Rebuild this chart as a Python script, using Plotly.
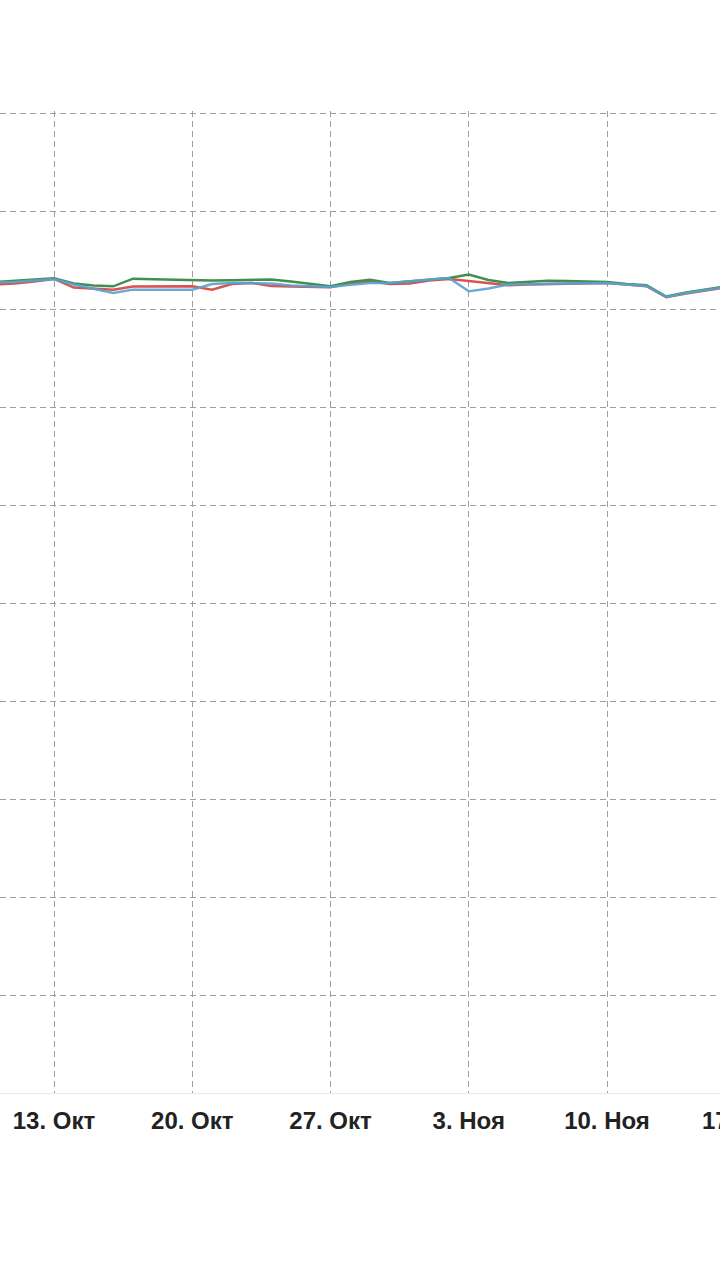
import pandas as pd
import plotly.graph_objects as go

dates = pd.date_range("2025-10-10", "2025-11-16", freq="D")

green_vals = [8.276, 8.286, 8.296, 8.313, 8.260, 8.240, 8.232, 8.309, 8.303, 8.298,
              8.294, 8.291, 8.294, 8.296, 8.301, 8.281, 8.255, 8.232, 8.276, 8.299,
              8.265, 8.283, 8.301, 8.316, 8.352, 8.296, 8.265, 8.276, 8.289, 8.286,
              8.281, 8.276, 8.255, 8.242, 8.128, 8.168, 8.199, 8.230]
red_vals = [8.250, 8.260, 8.281, 8.306, 8.219, 8.209, 8.197, 8.230, 8.232, 8.232,
            8.232, 8.197, 8.255, 8.265, 8.235, 8.230, 8.227, 8.221, 8.265, 8.283,
            8.255, 8.260, 8.291, 8.306, 8.286, 8.265, 8.242, 8.250, 8.255, 8.258,
            8.262, 8.265, 8.250, 8.232, 8.119, 8.158, 8.189, 8.219]
blue_vals = [8.270, 8.276, 8.291, 8.306, 8.250, 8.209, 8.163, 8.197, 8.197, 8.197,
             8.197, 8.255, 8.265, 8.265, 8.260, 8.240, 8.230, 8.224, 8.248, 8.265,
             8.265, 8.283, 8.296, 8.316, 8.180, 8.209, 8.250, 8.255, 8.255, 8.260,
             8.263, 8.265, 8.250, 8.235, 8.122, 8.163, 8.194, 8.224]

tick_dates = ["2025-10-13", "2025-10-20", "2025-10-27", "2025-11-03", "2025-11-10", "2025-11-17"]
tick_text = ["13. Окт", "20. Окт", "27. Окт", "3. Ноя", "10. Ноя", "17. Ноя"]
y_ticks = [1, 2, 3, 4, 5, 6, 7, 8, 9, 10]

x_start = "2025-10-10 06:22"
x_end = "2025-11-15 17:17"
grid_col = "#a39d94"
tick_font = dict(family="Liberation Sans", size=24, color="#222222", weight="bold")

fig = go.Figure()
fig.add_trace(go.Scatter(x=dates, y=red_vals, mode="lines", name="red",
                         line=dict(color="#d9534f", width=2.4)))
fig.add_trace(go.Scatter(x=dates, y=green_vals, mode="lines", name="green",
                         line=dict(color="#3f8f50", width=2.4)))
fig.add_trace(go.Scatter(x=dates, y=blue_vals, mode="lines", name="blue",
                         line=dict(color="#5aa2d0", width=2.4), opacity=0.9))

# the last tick sits just past the right edge, only its start shows
last_x = (pd.Timestamp(tick_dates[-1]) - pd.Timestamp(x_start)) / \
         (pd.Timestamp(x_end) - pd.Timestamp(x_start))
fig.add_annotation(x=last_x, xref="paper", y=0, yref="paper", yshift=-27,
                   text=tick_text[-1], showarrow=False, xanchor="center", yanchor="middle",
                   font=tick_font)

fig.update_layout(
    width=720, height=1280,
    margin=dict(l=0, r=0, t=111, b=187),
    paper_bgcolor="white", plot_bgcolor="white",
    showlegend=False,
    xaxis=dict(
        range=[x_start, x_end],
        tickmode="array", tickvals=tick_dates[:-1], ticktext=tick_text[:-1],
        showgrid=True, gridcolor=grid_col, gridwidth=1, griddash="6px,4px",
        showline=True, linecolor="#efe8dc", linewidth=1,
        ticks="", ticklabelstandoff=6,
        tickfont=tick_font,
        zeroline=False,
    ),
    yaxis=dict(
        range=[0, 10.0204],
        tickmode="array", tickvals=y_ticks,
        showticklabels=False,
        showgrid=True, gridcolor=grid_col, gridwidth=1, griddash="6px,4px",
        zeroline=False, showline=False, ticks="",
    ),
)

fig.write_html("out.html", config={"displayModeBar": False},
               post_script="document.body.style.margin='0';document.body.style.overflow='hidden';")
